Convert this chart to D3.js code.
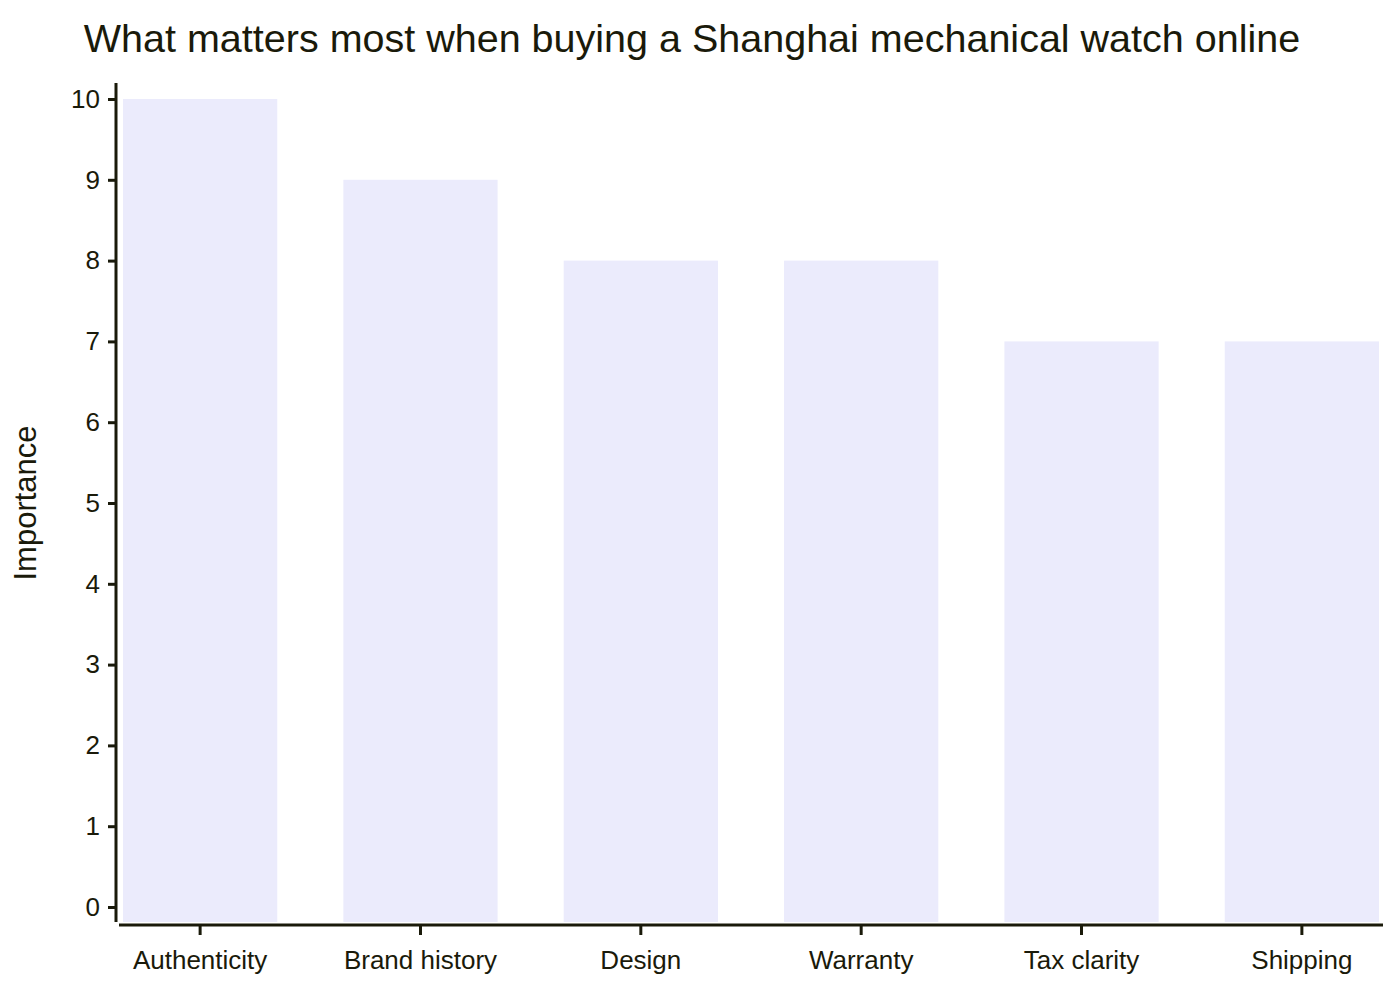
<!DOCTYPE html><html><head><meta charset="utf-8"><script src="https://cdn.jsdelivr.net/npm/d3@7"></script>
<style>body{margin:0;background:#fff}text{font-family:"Liberation Sans",Arial,sans-serif;fill:#1a1a0a}</style></head><body><svg id="c" width="1400" height="1000"></svg><script>
const categories=["Authenticity","Brand history","Design","Warranty","Tax clarity","Shipping"];
const values=[10,9,8,8,7,7];
const yTicks=[0,1,2,3,4,5,6,7,8,9,10];
const svg=d3.select("#c");
const x=d3.scaleBand().domain(categories).range([123,1379]).paddingInner(0.3).paddingOuter(0);
const y=d3.scaleLinear().domain([0,10]).range([907,99]);
svg.append("text").attr("x",692).attr("y",52).attr("text-anchor","middle").style("font-size","39.5px").text("What matters most when buying a Shanghai mechanical watch online");
svg.selectAll("rect").data(values).join("rect").attr("x",(d,i)=>x(categories[i])).attr("width",x.bandwidth()).attr("y",d=>y(d)).attr("height",d=>922-y(d)).attr("fill","#ebebfc");
const ya=svg.append("g").attr("transform","translate(116,0)").call(d3.axisLeft(y).tickValues(yTicks).tickSize(8).tickPadding(8));
ya.select(".domain").attr("d","M0,83V922");
const xa=svg.append("g").attr("transform","translate(0,925)").call(d3.axisBottom(x).tickSize(10).tickPadding(16));
xa.select(".domain").attr("d","M119,0H1383");
svg.selectAll(".domain").attr("stroke","#1a1a0a").attr("stroke-width",3);
svg.selectAll(".tick line").attr("stroke","#1a1a0a").attr("stroke-width",3);
svg.selectAll(".tick text").style("font-size","26px").attr("fill","#1a1a0a");
svg.append("text").attr("transform","translate(36,503) rotate(-90)").attr("text-anchor","middle").style("font-size","31px").text("Importance");
</script></body></html>
